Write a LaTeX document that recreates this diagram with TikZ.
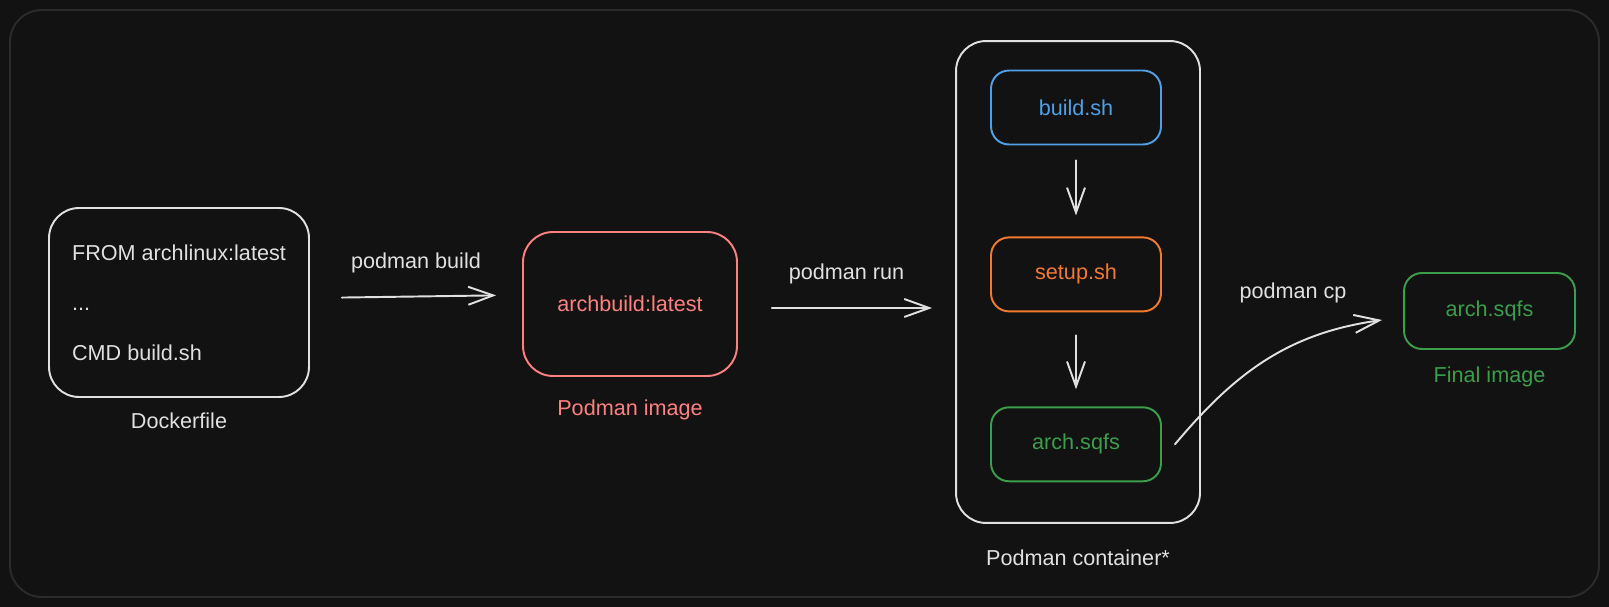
\documentclass[tikz,border=0pt]{standalone}
\usepackage{fontspec}
\setmainfont{Liberation Sans}
\usepackage{tikz}
\usetikzlibrary{positioning}
\usetikzlibrary{arrows.meta}
\definecolor{bgc}{HTML}{121212}
\definecolor{framec}{HTML}{2B2B2B}
\definecolor{fgc}{HTML}{E0E0E0}
\definecolor{redc}{HTML}{FF8080}
\definecolor{bluec}{HTML}{4FA0E6}
\definecolor{orangec}{HTML}{F27A2E}
\definecolor{greenc}{HTML}{3A9E4A}
\newcommand{\txt}{\fontsize{12.3}{15}\selectfont}

\begin{document}
\begin{tikzpicture}[x=0.02cm,y=-0.02cm,node distance=1.85cm,>={Straight Barb[length=0.5cm,width=0.36cm]},line width=1.1pt,line cap=round,font=\txt,
box/.style={draw,rounded corners=0.6cm,inner sep=0pt},
step box/.style={draw,rounded corners=0.36cm,minimum width=3.4cm,minimum height=1.48cm,inner sep=0pt},
lbl/.style={text=fgc}]
\fill[bgc] (0,0) rectangle (1609,607);
\draw[framec,rounded corners=0.64cm] (10,10) rectangle (1599,597);
%\path[use as bounding box] (0,0) rectangle (1609,607);
\path node[box,fgc,minimum width=5.2cm,minimum height=3.78cm,align=left,font=\fontsize{12.3}{28.5}\selectfont] (df) at (179,302.5) {FROM archlinux:latest\\...\\CMD build.sh};
\path node[lbl,below=0.17cm of df] (dfl) {Dockerfile};
\path node[box,redc,minimum width=4.28cm,minimum height=2.88cm] (img) at (630,304) {archbuild:latest};
\path node[redc,below=0.32cm of img] (imgl) {Podman image};
\path[->,fgc] ([yshift=0.09cm]df.east) edge[shorten <=0.64cm,shorten >=0.52cm] node[above=0.34cm] {podman build} ([yshift=0.18cm]img.west);
\path node[box,fgc,minimum width=4.88cm,minimum height=9.64cm] (cont) at (1078,282) {};
\path node[lbl,below=0.38cm of cont] (contl) {Podman container*};
\path[->,fgc] ([yshift=-0.08cm]img.east) edge[shorten <=0.68cm,shorten >=0.46cm] node[above=0.34cm] {podman run} ([yshift=-0.52cm]cont.west);
\path node[step box,bluec] (bsh) at (1076,107.5) {build.sh};
\path node[step box,orangec,below=1.82cm of bsh] (ssh) {setup.sh};
\path node[step box,greenc,below=1.88cm of ssh] (sq) {arch.sqfs};
\path[->,fgc] (bsh) edge[shorten <=0.3cm,shorten >=0.42cm] (ssh);
\path[->,fgc] (ssh) edge[shorten <=0.46cm,shorten >=0.34cm] (sq);
\path node[step box,greenc,minimum width=3.42cm,minimum height=1.52cm] (fin) at (1489.5,311) {arch.sqfs};
\path node[greenc,below=0.2cm of fin] (finl) {Final image};
\path[->,draw,fgc] ([xshift=0.26cm]sq.east) to[out=50,in=188] ([xshift=-0.42cm,yshift=-0.18cm]fin.west);
\path node[lbl] (cpl) at (1293,293) {podman cp};
\end{tikzpicture}
\end{document}
